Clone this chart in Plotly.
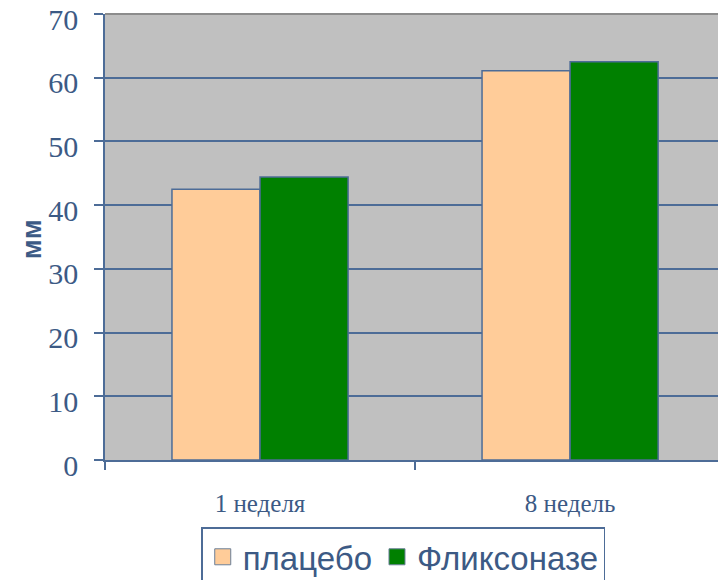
import plotly.graph_objects as go

categories = ["1 неделя", "8 недель"]
placebo = [42.5, 61.1]
flixonase = [44.4, 62.5]
series_names = ["плацебо", "Фликсоназе"]
y_ticks = [0, 10, 20, 30, 40, 50, 60, 70]

TXT = "#3C5A85"
LINE = "#4D6C97"
COL_P = "#FFCC99"
COL_F = "#008000"

fig = go.Figure()
for name, vals, col in [(series_names[0], placebo, COL_P), (series_names[1], flixonase, COL_F)]:
    fig.add_trace(go.Bar(x=categories, y=vals, name=name, showlegend=False,
                         marker=dict(color=col, line=dict(color=LINE, width=1.5))))
for name, col in [(series_names[0], COL_P), (series_names[1], COL_F)]:
    fig.add_trace(go.Scatter(x=[None], y=[None], mode="markers", name=name,
                             marker=dict(symbol="square", size=16, color=col,
                                         line=dict(color="#6A7F99", width=1))))

fig.update_layout(
    width=718, height=580,
    margin=dict(l=105, r=0, t=14, b=120, autoexpand=False),
    plot_bgcolor="#C0C0C0", paper_bgcolor="white",
    barmode="group", bargap=0.432, bargroupgap=0,
    showlegend=True,
    legend=dict(orientation="h", x=0.157, xanchor="left", y=-0.151, yanchor="top",
                font=dict(family="Liberation Sans, Arial", size=33, color=TXT),
                bordercolor=LINE, borderwidth=1.5, itemwidth=30,
                tracegroupgap=0, itemclick=False),
    xaxis=dict(type="category", range=[-0.5, 1.477], showgrid=False, automargin=False,
               showline=True, linecolor=LINE, linewidth=1.5,
               ticks="outside", tickson="boundaries", ticklen=8, tickcolor=LINE, tickwidth=1.5,
               tickfont=dict(family="Liberation Serif, Times New Roman", size=25, color=TXT),
               ticklabelstandoff=20),
    yaxis=dict(range=[0, 70], tickvals=y_ticks, showgrid=True, gridcolor=LINE, gridwidth=1.5,
               showline=True, linecolor=LINE, linewidth=1.5, zeroline=False, automargin=False,
               ticks="outside", ticklen=9, tickcolor=LINE, tickwidth=1.5,
               tickfont=dict(family="Liberation Serif, Times New Roman", size=30, color=TXT),
               ticklabelstandoff=10, ticklabelshift=5, ticklabeloverflow="allow"),
    annotations=[dict(text="<b>мм</b>", textangle=-90, xref="paper", yref="paper",
                      x=-0.120, y=0.496, xanchor="center", yanchor="middle", showarrow=False,
                      font=dict(family="Liberation Sans, Arial", size=27, color=TXT))],
    shapes=[dict(type="line", xref="paper", yref="paper", x0=0, x1=1, y0=1, y1=1,
                 line=dict(color="#8C8C8C", width=2), layer="above")],
)

fig.write_html("out.html")
